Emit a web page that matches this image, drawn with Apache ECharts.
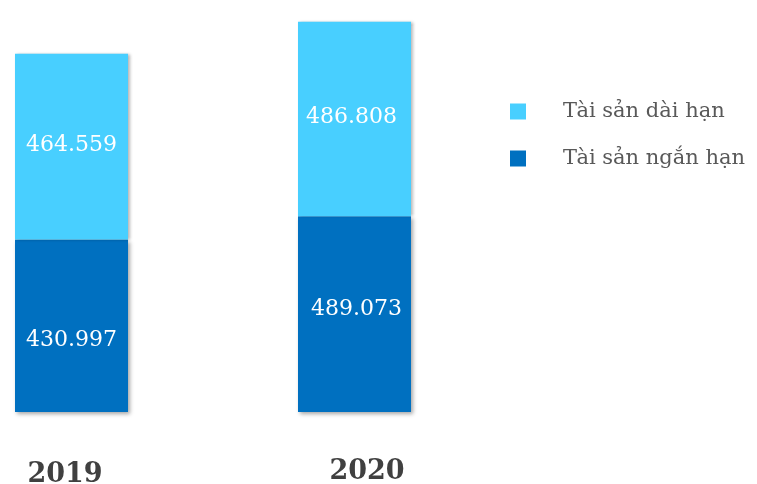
<!DOCTYPE html>
<html>
<head>
<meta charset="utf-8">
<script src="https://cdn.jsdelivr.net/npm/echarts@6/dist/echarts.min.js"></script>
<style>html,body{margin:0;padding:0;background:#fff}#c{width:757px;height:484px}</style>
</head>
<body>
<div id="c"></div>
<script>
var years = ['2019', '2020'];
var shortTerm = [430.997, 489.073];   // Tài sản ngắn hạn
var longTerm = [464.559, 486.808];    // Tài sản dài hạn
var seriesNames = ['Tài sản ngắn hạn', 'Tài sản dài hạn'];

var chart = echarts.init(document.getElementById('c'), null, {renderer: 'canvas'});
var fmt = function (p) { return p.value.toFixed(3); };
chart.setOption({
  animation: false,
  grid: {left: 71.5, right: 402.5, top: 12, bottom: 72, outerBoundsMode: 'none', containLabel: false},
  xAxis: {
    type: 'category', data: years, boundaryGap: false,
    axisLine: {show: false}, axisTick: {show: false}, splitLine: {show: false},
    axisLabel: {
      margin: 46,
      formatter: function (v, i) { return i === 0 ? '{a|' + v + '}' : '{b|' + v + '}'; },
      rich: {
        a: {fontFamily: 'DejaVu Serif', fontWeight: 'bold', fontSize: 27, color: '#404040', padding: [3, 13, 0, 0]},
        b: {fontFamily: 'DejaVu Serif', fontWeight: 'bold', fontSize: 27, color: '#404040', padding: [0, 0, 3, 25]}
      }
    }
  },
  yAxis: {type: 'value', min: 0, max: 1000, show: false, splitLine: {show: false}},
  legend: {
    orient: 'vertical', left: 505, top: 96,
    data: [seriesNames[1], seriesNames[0]],
    icon: 'rect', itemWidth: 16, itemHeight: 16, itemGap: 26,
    textStyle: {fontFamily: 'DejaVu Serif', fontSize: 21, color: '#595959', padding: [2, 0, 0, 32]}
  },
  series: [
    {
      name: seriesNames[0], type: 'bar', stack: 'total', barWidth: 113,
      data: shortTerm.map(function (v, i) {
        return {value: v, label: {offset: i === 0 ? [0, 14] : [2, -5]}};
      }),
      itemStyle: {color: '#0070C0', shadowBlur: 4, shadowOffsetX: 2, shadowOffsetY: 2, shadowColor: 'rgba(0,0,0,0.35)'},
      label: {show: true, position: 'inside', formatter: fmt, color: '#fff', fontFamily: 'DejaVu Serif', fontSize: 22}
    },
    {
      name: seriesNames[1], type: 'bar', stack: 'total', barWidth: 113,
      data: longTerm.map(function (v, i) {
        return {value: v, label: {offset: i === 0 ? [0, -1] : [-3, -2]}};
      }),
      itemStyle: {color: '#48CFFF', shadowBlur: 3, shadowOffsetX: 2, shadowOffsetY: 0, shadowColor: 'rgba(0,0,0,0.3)'},
      label: {show: true, position: 'inside', formatter: fmt, color: '#fff', fontFamily: 'DejaVu Serif', fontSize: 22}
    }
  ]
});
</script>
</body>
</html>
